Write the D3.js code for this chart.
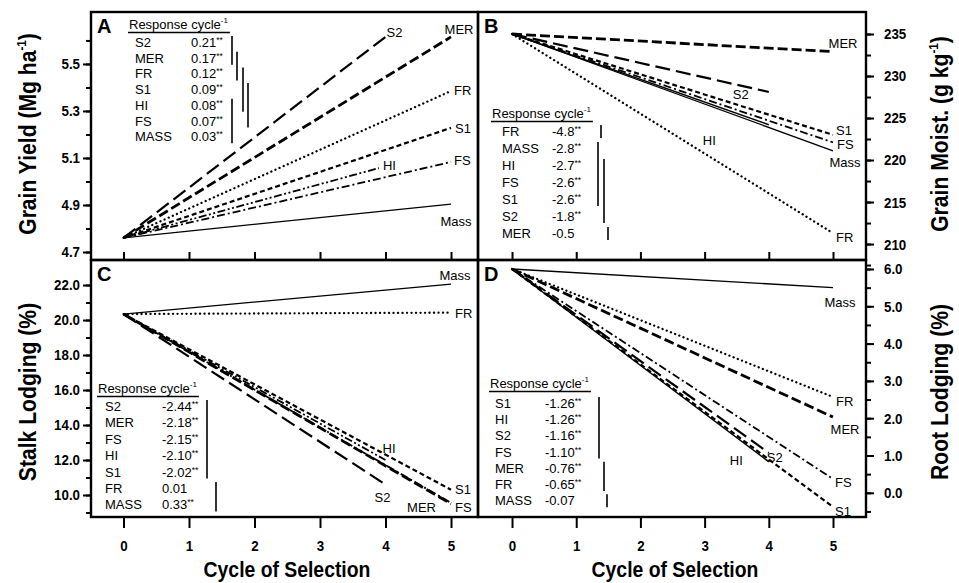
<!DOCTYPE html>
<html>
<head>
<meta charset="utf-8">
<script src="https://cdn.jsdelivr.net/npm/d3@7"></script>
<style>
  body { margin: 0; background: #fff; }
  svg { display: block; }
  text { font-family: "Liberation Sans", Arial, Helvetica, sans-serif; fill: #000; }
</style>
</head>
<body>
<svg id="chart" width="959" height="583"></svg>
<script>
// ---- values ----
const cycles = [0, 1, 2, 3, 4, 5];

// A: grain yield (Mg ha-1)
const yieldPops  = ["S2", "MER", "FR", "S1", "HI", "FS", "Mass"];
const yieldStart = [4.76, 4.76, 4.76, 4.76, 4.76, 4.76, 4.76];
const yieldLast  = [4, 5, 5, 5, 3.9, 5, 5];
const yieldEnd   = [5.615, 5.615, 5.385, 5.228, 5.057, 5.083, 4.904];
const yieldRows  = ["S2", "MER", "FR", "S1", "HI", "FS", "MASS"];
const yieldResp  = ["0.21", "0.17", "0.12", "0.09", "0.08", "0.07", "0.03"];
const yieldStars = [true, true, true, true, true, true, true];
const yieldBars  = [[0, 1, 0], [1, 2, 1], [2, 4, 2], [3, 5, 3], [4, 6, 0]];

// B: grain moisture (g kg-1)
const moistPops  = ["MER", "S2", "HI", "S1", "FS", "Mass", "FR"];
const moistStart = [235, 235, 235, 235, 235, 235, 235];
const moistLast  = [5, 4, 4, 5, 5, 5, 5];
const moistEnd   = [232.9, 228.1, 224.2, 223.0, 222.1, 221.1, 211.3];
const moistRows  = ["FR", "MASS", "HI", "FS", "S1", "S2", "MER"];
const moistResp  = ["-4.8", "-2.8", "-2.7", "-2.6", "-2.6", "-1.8", "-0.5"];
const moistStars = [true, true, true, true, true, true, false];
const moistBars  = [[0, 0, 1], [1, 4, 0], [2, 5, 2], [6, 6, 3]];

// C: stalk lodging (%)
const stalkPops  = ["Mass", "FR", "S2", "HI", "S1", "MER", "FS"];
const stalkStart = [20.34, 20.34, 20.34, 20.34, 20.34, 20.34, 20.34];
const stalkLast  = [5, 5, 4, 4, 5, 5, 5];
const stalkEnd   = [22.05, 20.42, 10.6, 12.0, 10.3, 9.5, 9.55];
const stalkRows  = ["S2", "MER", "FS", "HI", "S1", "FR", "MASS"];
const stalkResp  = ["-2.44", "-2.18", "-2.15", "-2.10", "-2.02", "0.01", "0.33"];
const stalkStars = [true, true, true, true, true, false, true];
const stalkBars  = [[0, 4, 0], [5, 6, 1]];

// D: root lodging (%)
const rootPops  = ["Mass", "FR", "MER", "S2", "HI", "FS", "S1"];
const rootStart = [6.0, 6.0, 6.0, 6.0, 6.0, 6.0, 6.0];
const rootLast  = [5, 5, 5, 4, 4, 5, 5];
const rootEnd   = [5.5, 2.57, 2.03, 1.07, 0.83, 0.37, -0.38];
const rootRows  = ["S1", "HI", "S2", "FS", "MER", "FR", "MASS"];
const rootResp  = ["-1.26", "-1.26", "-1.16", "-1.10", "-0.76", "-0.65", "-0.07"];
const rootStars = [true, true, true, true, true, true, false];
const rootBars  = [[0, 3, 0], [4, 5, 1], [6, 6, 2]];

// ---- drawing ----
const svg = d3.select("#chart");
svg.append("rect").attr("width", 959).attr("height", 583).attr("fill", "#fff");

// the figure sets its axis text in a condensed bold face: squeeze the glyphs
function condense(sel, k) {
  sel.each(function () {
    const w = this.getComputedTextLength();
    if (w > 0) d3.select(this).attr("textLength", w * k).attr("lengthAdjust", "spacingAndGlyphs");
  });
}

const lineStyle = {
  Mass: { dash: null, w: 1.3 },
  FR:   { dash: "0.1 4.4", w: 2.3, cap: "round" },
  S2:   { dash: "15 6", w: 2.2 },
  MER:  { dash: "10 4", w: 2.8 },
  S1:   { dash: "5 3", w: 2.2 },
  HI:   { dash: "8 2.5 2 2.5 2 2.5", w: 1.8 },
  FS:   { dash: "8 3 2 3", w: 1.8 }
};
const solidHI = { dash: null, w: 1.4 };

const panels = [
  { key: "A", x0: 91, y0: 12, w: 387, h: 248, xDom: [-0.496, 5.412], yDom: [4.666, 5.721],
    major: d3.range(5).map(i => 4.7 + 0.2 * i), minor: d3.range(10).map(i => 4.7 + 0.1 * i),
    fmt: d3.format(".1f"), side: "left", hiSolid: false,
    pops: yieldPops, start: yieldStart, last: yieldLast, end: yieldEnd,
    rows: yieldRows, resp: yieldResp, stars: yieldStars, bars: yieldBars,
    leg: { x: 129, y: 29, nameX: 135, valX: 191, rowY: 47, step: 15.7, cols: [232, 237, 243, 248] },
    lab: { S2: [1, 0, "start"], MER: [8, -3, "middle"], FR: [3, 4, "start"], S1: [4, 5, "start"],
           HI: [4, 2, "start"], FS: [3, 3, "start"], Mass: [5, 22, "middle"] } },
  { key: "B", x0: 478, y0: 12, w: 388, h: 248, xDom: [-0.53, 5.514], yDom: [208.1, 237.62],
    major: d3.range(6).map(i => 210 + 5 * i), minor: d3.range(12).map(i => 207.5 + 2.5 * i),
    fmt: d3.format("d"), side: "right", hiSolid: true,
    pops: moistPops, start: moistStart, last: moistLast, end: moistEnd,
    rows: moistRows, resp: moistResp, stars: moistStars, bars: moistBars,
    leg: { x: 492, y: 118, nameX: 502, valX: 552, rowY: 136, step: 17, cols: [598, 601, 604, 608] },
    lab: { MER: [10, -4, "middle"], S2: [-28, 7, "middle"], HI: [-66, 20, "start"], S1: [3, 0, "start"],
           FS: [4, 7, "start"], Mass: [12, 16, "middle"], FR: [3, 9, "start"] } },
  { key: "C", x0: 91, y0: 260, w: 387, h: 257, xDom: [-0.496, 5.412], yDom: [8.743, 23.43],
    major: d3.range(7).map(i => 10 + 2 * i), minor: d3.range(14).map(i => 9 + i),
    fmt: d3.format(".1f"), side: "left", hiSolid: false,
    pops: stalkPops, start: stalkStart, last: stalkLast, end: stalkEnd,
    rows: stalkRows, resp: stalkResp, stars: stalkStars, bars: stalkBars,
    leg: { x: 98, y: 393, nameX: 105, valX: 162, rowY: 411, step: 16.4, cols: [207, 216] },
    lab: { Mass: [4, -4, "middle"], FR: [4, 5, "start"], S2: [-3, 17, "middle"], HI: [-3, -7, "start"],
           S1: [4, 4, "start"], MER: [-15, 8, "end"], FS: [4, 9, "start"] } },
  { key: "D", x0: 478, y0: 260, w: 388, h: 257, xDom: [-0.53, 5.514], yDom: [-0.649, 6.241],
    major: d3.range(7).map(i => i), minor: d3.range(14).map(i => -0.5 + 0.5 * i),
    fmt: d3.format(".1f"), side: "right", hiSolid: true,
    pops: rootPops, start: rootStart, last: rootLast, end: rootEnd,
    rows: rootRows, resp: rootResp, stars: rootStars, bars: rootBars,
    leg: { x: 490, y: 388, nameX: 495, valX: 545, rowY: 408, step: 16.2, cols: [599, 604, 607] },
    lab: { Mass: [7, 19, "middle"], FR: [3, 9, "start"], MER: [12, 17, "middle"], S2: [-2, 9, "start"],
           HI: [-39, 3, "start"], FS: [2, 8, "start"], S1: [2, 9, "start"] } }
];

function styleTicks(sel) {
  sel.selectAll(".domain").remove();
  sel.selectAll("line").attr("stroke", "#000").attr("stroke-width", 2);
  const tx = sel.selectAll("text").attr("font-size", 15.5).attr("font-weight", "bold").attr("fill", "#000");
  condense(tx, 0.86);
}

function drawPanel(p) {
  const g = svg.append("g").attr("transform", `translate(${p.x0},${p.y0})`);
  const x = d3.scaleLinear().domain(p.xDom).range([0, p.w]);
  const y = d3.scaleLinear().domain(p.yDom).range([p.h, 0]);

  // y axis: labelled major ticks plus minor ticks
  const ax = p.side === "left" ? d3.axisLeft : d3.axisRight;
  const yg = g.append("g").attr("transform", p.side === "left" ? "" : `translate(${p.w},0)`);
  yg.call(ax(y).tickValues(p.minor).tickSize(5).tickFormat(""));
  yg.append("g").call(ax(y).tickValues(p.major).tickSize(8)
    .tickPadding(p.side === "left" ? 3 : 10).tickFormat(p.fmt));
  styleTicks(yg);

  // bottom panels carry the cycle ticks, on the divider and below the frame
  if (p.key === "C" || p.key === "D") {
    const xb = g.append("g").attr("transform", `translate(0,${p.h})`)
      .call(d3.axisBottom(x).tickValues(cycles).tickSize(11).tickPadding(12).tickFormat(d3.format("d")));
    const xt = g.append("g").call(d3.axisTop(x).tickValues(cycles).tickSize(8).tickFormat(""));
    styleTicks(xb);
    styleTicks(xt);
  }

  // regression lines
  const line = d3.line().x(d => x(d[0])).y(d => y(d[1]));
  p.pops.forEach((name, i) => {
    const st = (name === "HI" && p.hiSolid) ? solidHI : lineStyle[name];
    const pts = [[cycles[0], p.start[i]], [p.last[i], p.end[i]]];
    g.append("path").attr("d", line(pts)).attr("fill", "none").attr("stroke", "#000")
      .attr("stroke-width", st.w).attr("stroke-dasharray", st.dash)
      .attr("stroke-linecap", st.cap || "butt");
    const o = p.lab[name];
    g.append("text").attr("x", x(p.last[i]) + o[0]).attr("y", y(p.end[i]) + o[1])
      .attr("text-anchor", o[2]).attr("font-size", 13).text(name);
  });

  // frame
  g.append("rect").attr("width", p.w).attr("height", p.h).attr("fill", "none")
    .attr("stroke", "#000").attr("stroke-width", 2.4);

  // panel letter
  g.append("text").attr("x", 6).attr("y", 21).attr("font-size", 20).attr("font-weight", "bold").text(p.key);

  // response table
  const L = p.leg;
  const t = svg.append("text").attr("x", L.x).attr("y", L.y).attr("font-size", 13);
  t.append("tspan").text("Response cycle");
  t.append("tspan").attr("font-size", 8).attr("dy", -6).text("-1");
  const tw = t.node().getComputedTextLength();
  svg.append("line").attr("x1", L.x - 1).attr("x2", L.x + tw + 2)
    .attr("y1", L.y + 3.5).attr("y2", L.y + 3.5).attr("stroke", "#000").attr("stroke-width", 1.5);
  p.rows.forEach((r, i) => {
    const yy = L.rowY + i * L.step;
    svg.append("text").attr("x", L.nameX).attr("y", yy).attr("font-size", 13).text(r);
    const v = svg.append("text").attr("x", L.valX).attr("y", yy).attr("font-size", 13);
    v.append("tspan").text(p.resp[i]);
    if (p.stars[i]) v.append("tspan").attr("font-size", 8.5).attr("dy", -4).text("**");
  });
  p.bars.forEach(b => {
    const bx = L.cols[b[2]];
    svg.append("line").attr("x1", bx).attr("x2", bx)
      .attr("y1", L.rowY + b[0] * L.step - 11).attr("y2", L.rowY + b[1] * L.step + 2)
      .attr("stroke", "#000").attr("stroke-width", 1.6);
  });
}

panels.forEach(drawPanel);

// axis titles
function vTitle(cx, cy, main, sup, tail) {
  const fs = 24;
  const t = svg.append("text").attr("transform", `translate(${cx},${cy}) rotate(-90)`)
    .attr("text-anchor", "middle").attr("font-size", fs).attr("font-weight", "bold");
  t.append("tspan").text(main);
  if (sup) {
    t.append("tspan").attr("font-size", fs * 0.55).attr("dy", -fs * 0.42).text(sup);
    t.append("tspan").attr("dy", fs * 0.42).text(tail);
  }
  condense(t, 0.88);
}
vTitle(36, 134, "Grain Yield (Mg ha", "-1", ")");
vTitle(36, 392, "Stalk Lodging (%)");
vTitle(948, 134, "Grain Moist. (g kg", "-1", ")");
vTitle(948, 392, "Root Lodging (%)");

[[287, "Cycle of Selection"], [675, "Cycle of Selection"]].forEach(d => {
  const t = svg.append("text").attr("x", d[0]).attr("y", 577).attr("text-anchor", "middle")
    .attr("font-size", 22).attr("font-weight", "bold").text(d[1]);
  condense(t, 0.88);
});
</script>
</body>
</html>
